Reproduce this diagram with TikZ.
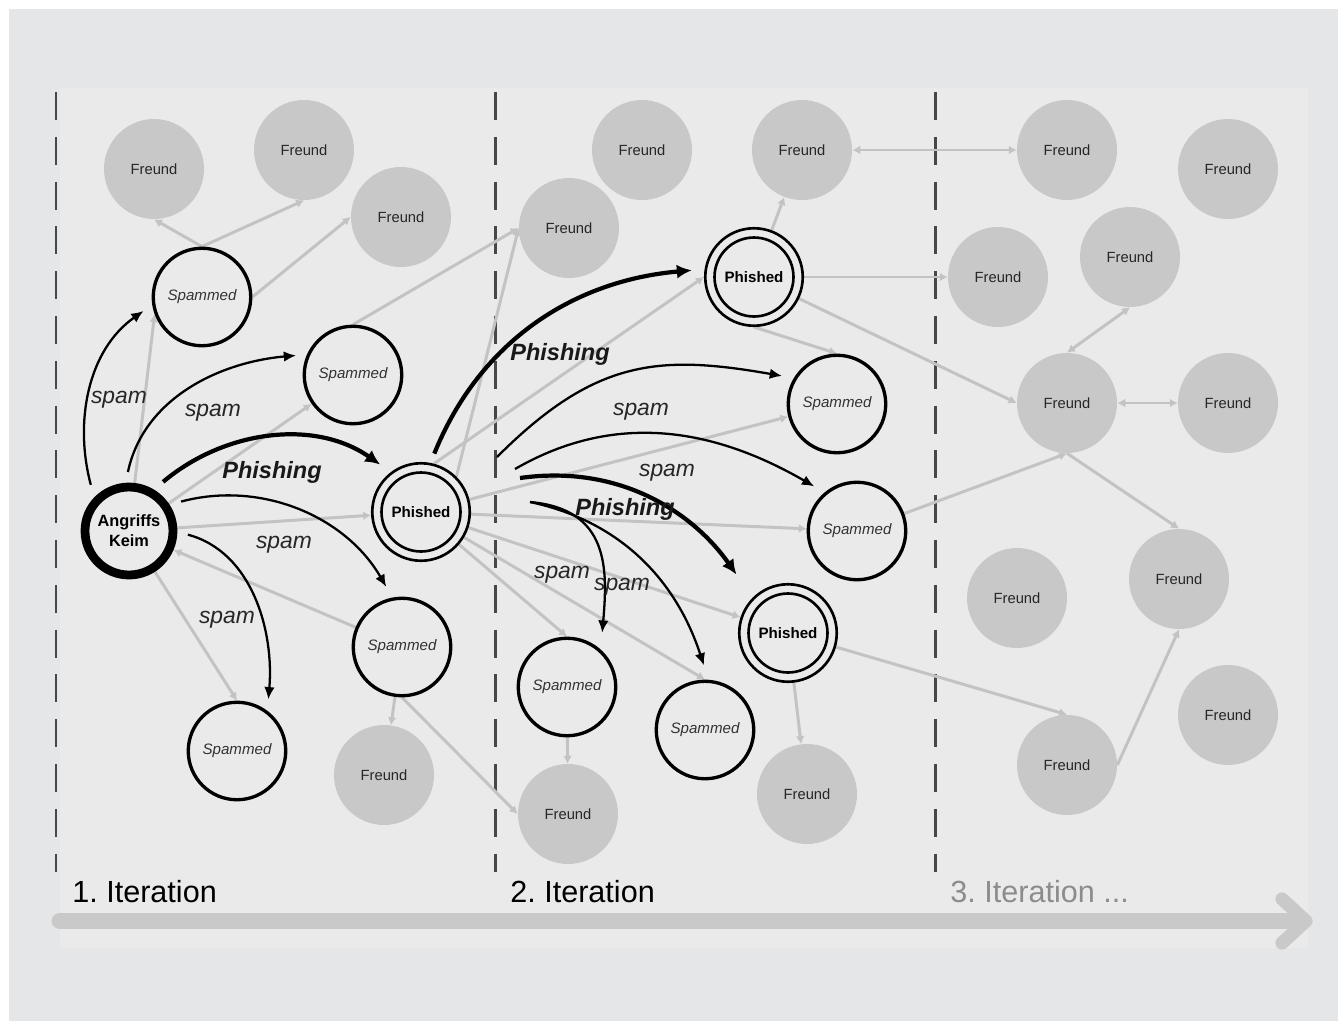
\documentclass[tikz,border=0pt]{standalone}
\usepackage{fontspec}
\setmainfont{Liberation Sans}
\usetikzlibrary{arrows.meta}
\definecolor{outerbg}{HTML}{E5E6E8}
\definecolor{panel}{HTML}{EAEAEA}
\definecolor{friend}{HTML}{C8C8C8}
\definecolor{linkgray}{HTML}{C3C3C3}
\definecolor{divider}{HTML}{474747}
\definecolor{timeline}{HTML}{C9C9C9}
\definecolor{fadedtext}{HTML}{8C8C8C}
\pgfdeclarelayer{bg}
\pgfdeclarelayer{links}
\pgfsetlayers{bg,links,main}

\begin{document}
\frenchspacing
\begin{tikzpicture}[x=0.02cm,y=-0.02cm,
  freund/.style={circle, fill=friend, minimum size=2cm, inner sep=0pt,
    font=\fontsize{8.4}{10}\selectfont, text=black!85},
  spammed/.style={circle, draw=black, line width=1.9pt, fill=panel, minimum size=1.95cm,
    inner sep=0pt, font=\fontsize{8.6}{10}\selectfont\itshape, text=black!80},
  phished/.style={circle, draw=black, line width=1.5pt, fill=panel, minimum size=1.95cm,
    inner sep=0pt, font=\fontsize{8.6}{10}\selectfont\bfseries},
  seed/.style={circle, draw=black, line width=5pt, fill=panel, minimum size=1.76cm,
    inner sep=0pt, align=center, font=\fontsize{9.3}{11.3}\selectfont\bfseries},
  ring/.style={draw=black, line width=1.5pt},
  link/.style={draw=linkgray, line width=1.7pt, -{Latex[length=4.5pt,width=5pt]}},
  linkboth/.style={draw=linkgray, line width=1.7pt,
    {Latex[length=4.5pt,width=5pt]}-{Latex[length=4.5pt,width=5pt]}},
  spamarrow/.style={draw=black, line width=1.3pt, -{Latex[length=7pt,width=6pt]}},
  phisharrow/.style={draw=black, line width=2.4pt, -{Latex[length=8.5pt,width=8pt]}},
  spamlabel/.style={font=\fontsize{13}{15}\selectfont\itshape, text=black!85, inner sep=0pt},
  phishlabel/.style={font=\fontsize{13.4}{15}\selectfont\bfseries\itshape, text=black!90, inner sep=0pt},
  divline/.style={draw=divider, line width=1.7pt, dash pattern=on 15.9pt off 9.6pt},
  iterlabel/.style={anchor=base west, font=\fontsize{17.4}{20}\selectfont, inner sep=0pt},
]
\useasboundingbox (0,0) rectangle (1338,1021);

% backdrop and the lighter working area
\begin{pgfonlayer}{bg}
  \fill[white] (0,0) rectangle (1338,1021);
  \fill[outerbg] (9,9) rectangle (1338,1021);
  \fill[panel] (60,88) rectangle (1308,948);
  \draw[divline] (56,92) -- (56,872);
  \draw[divline] (495,92) -- (495,872);
  \draw[divline] (935,92) -- (935,872);
\end{pgfonlayer}

% ---------- iteration 1 ----------
\node[seed] (ak) at (129,531) {Angriffs\\Keim};
\node[freund] (f1) at (154,169) {Freund};
\node[freund] (f2) at (304,150) {Freund};
\node[freund] (f3) at (401,217) {Freund};
\node[spammed] (s1) at (202,297) {Spammed};
\node[spammed] (s2) at (353,375) {Spammed};
\node[phished] (p1) at (421,512) {Phished};
\node[spammed] (s3) at (402,647) {Spammed};
\node[spammed] (s4) at (237,751) {Spammed};
\node[freund] (f4) at (384,775) {Freund};

% ---------- iteration 2 ----------
\node[freund] (f5) at (642,150) {Freund};
\node[freund] (f6) at (802,150) {Freund};
\node[freund] (f7) at (569,228) {Freund};
\node[phished] (p2) at (754,277) {Phished};
\node[spammed] (s5) at (837,404) {Spammed};
\node[spammed] (s6) at (857,531) {Spammed};
\node[phished] (p3) at (788,633) {Phished};
\node[spammed] (s7) at (567,687) {Spammed};
\node[spammed] (s8) at (705,730) {Spammed};
\node[freund] (f8) at (568,814) {Freund};
\node[freund] (f9) at (807,794) {Freund};

% ---------- iteration 3 ----------
\node[freund] (f10) at (1067,150) {Freund};
\node[freund] (f11) at (1228,169) {Freund};
\node[freund] (f12) at (998,277) {Freund};
\node[freund] (f13) at (1130,257) {Freund};
\node[freund] (f14) at (1067,403) {Freund};
\node[freund] (f15) at (1228,403) {Freund};
\node[freund] (f16) at (1017,598) {Freund};
\node[freund] (f17) at (1179,579) {Freund};
\node[freund] (f18) at (1228,715) {Freund};
\node[freund] (f19) at (1067,765) {Freund};

% inner rings of the phished contacts
\draw[ring] (p1.center) circle[radius=0.79cm];
\draw[ring] (p2.center) circle[radius=0.79cm];
\draw[ring] (p3.center) circle[radius=0.79cm];

% ---------- contact links ----------
\begin{pgfonlayer}{links}
  \draw[link] (s1.north) -- (f1.south);
  \draw[link] (s1.north) -- (f2.south);
  \draw[link] (s1.east) -- (f3.west);
  \draw[link] (ak) -- (s1.200);
  \draw[link] (ak) -- (s2);
  \draw[link] (ak) -- (p1);
  \draw[link] (ak) -- (s4.north);
  \draw[link] (s3) -- (ak);
  \draw[link] (s3) -- (f4);
  \draw[link] (s3.south) -- (f8.west);
  \draw[link] (s2.north) -- (f7.west);
  \draw[link] (p1.45) -- (f7.west);
  \draw[link] (p1.75) -- (p2.west);
  \draw[link] (p1) -- (s5);
  \draw[link] (p1) -- (s6);
  \draw[link] (p1) -- (p3);
  \draw[link] (p1) -- (s8.north);
  \draw[link] (p1) -- (s7.north);
  \draw[link] (p2) -- (f6);
  \draw[linkboth] (f10) -- (f6);
  \draw[link] (p2) -- (f12);
  \draw[link] (p2) -- (f14.west);
  \draw[link] (p2.south) -- (s5.north);
  \draw[link] (s6) -- (f14.south);
  \draw[link] (f14.south) -- (f17.north);
  \draw[linkboth] (f14) -- (f15);
  \draw[linkboth] (f13.south) -- (f14.north);
  \draw[link] (f19.east) -- (f17.south);
  \draw[link] (p3) -- (f19.north);
  \draw[link] (p3) -- (f9);
  \draw[link] (s7) -- (f8);
\end{pgfonlayer}

% ---------- spam and phishing from the seed ----------
\draw[spamarrow, shorten <=7.4pt, shorten >=6pt] (ak.136) to[out=105,in=215] (s1.189);
\draw[spamarrow, shorten <=6.2pt, shorten >=6.2pt] (ak.94) to[out=78,in=185] (s2.156);
\draw[phisharrow, shorten <=6.8pt, shorten >=7.4pt] (ak.59) to[out=40,in=145] (p1.127);
\draw[spamarrow, shorten <=6.8pt, shorten >=7pt] (ak.33) to[out=15,in=120] (s3.101);
\draw[spamarrow, shorten <=6.2pt, shorten >=6.5pt] (ak.-1) to[out=-15,in=85] (s4.53);

\node[spamlabel] (l1) at (119,400) {spam};
\node[spamlabel] (l2) at (213,413) {spam};
\node[phishlabel] (l3) at (272,472) {Phishing};
\node[spamlabel] (l4) at (284,545) {spam};
\node[spamlabel] (l5) at (227,620) {spam};

% ---------- spam and phishing from the first phished contact ----------
\coordinate (g0) at (497,457);
\coordinate (h0) at (515,469);
\coordinate (i0) at (520,478);
\coordinate (j0) at (530,502);
\draw[phisharrow, shorten <=5.7pt, shorten >=7.3pt] (p1.79) to[out=68,in=185] (p2.171);
\draw[spamarrow, shorten >=6.8pt] (g0) to[out=45,in=170,looseness=1.15] (s5.149);
\draw[spamarrow, shorten >=6.8pt] (h0) to[out=30,in=150] (s6.130);
\draw[phisharrow, shorten >=16pt] (i0) to[out=8,in=125] (p3.135);
\draw[spamarrow, shorten >=9.6pt] (j0) to[out=-5,in=85,looseness=1.25] (s7.48);
\draw[spamarrow, shorten >=8.5pt] (j0) to[out=-12,in=108] (s8.86);

\node[phishlabel] (l6) at (560,354) {Phishing};
\node[spamlabel] (l7) at (641,412) {spam};
\node[spamlabel] (l8) at (667,473) {spam};
\node[phishlabel] (l9) at (625,509) {Phishing};
\node[spamlabel] (l10) at (562,575) {spam};
\node[spamlabel] (l11) at (622,587) {spam};

% ---------- time line ----------
\node[iterlabel] (it1) at (72,902) {1. Iteration};
\node[iterlabel] (it2) at (510,902) {2. Iteration};
\node[iterlabel, text=fadedtext] (it3) at (950,902) {3. Iteration ...};
\coordinate (t0) at (60,921);
\coordinate (t1) at (1300,921);
\coordinate (tu) at (1282,899);
\coordinate (tt) at (1306,921);
\coordinate (td) at (1282,943);
\draw[timeline, line width=9.6pt, line cap=round] (t0) -- (t1);
\draw[timeline, line width=7.5pt, line cap=round, line join=round] (tu) -- (tt) -- (td);
\end{tikzpicture}
\end{document}
